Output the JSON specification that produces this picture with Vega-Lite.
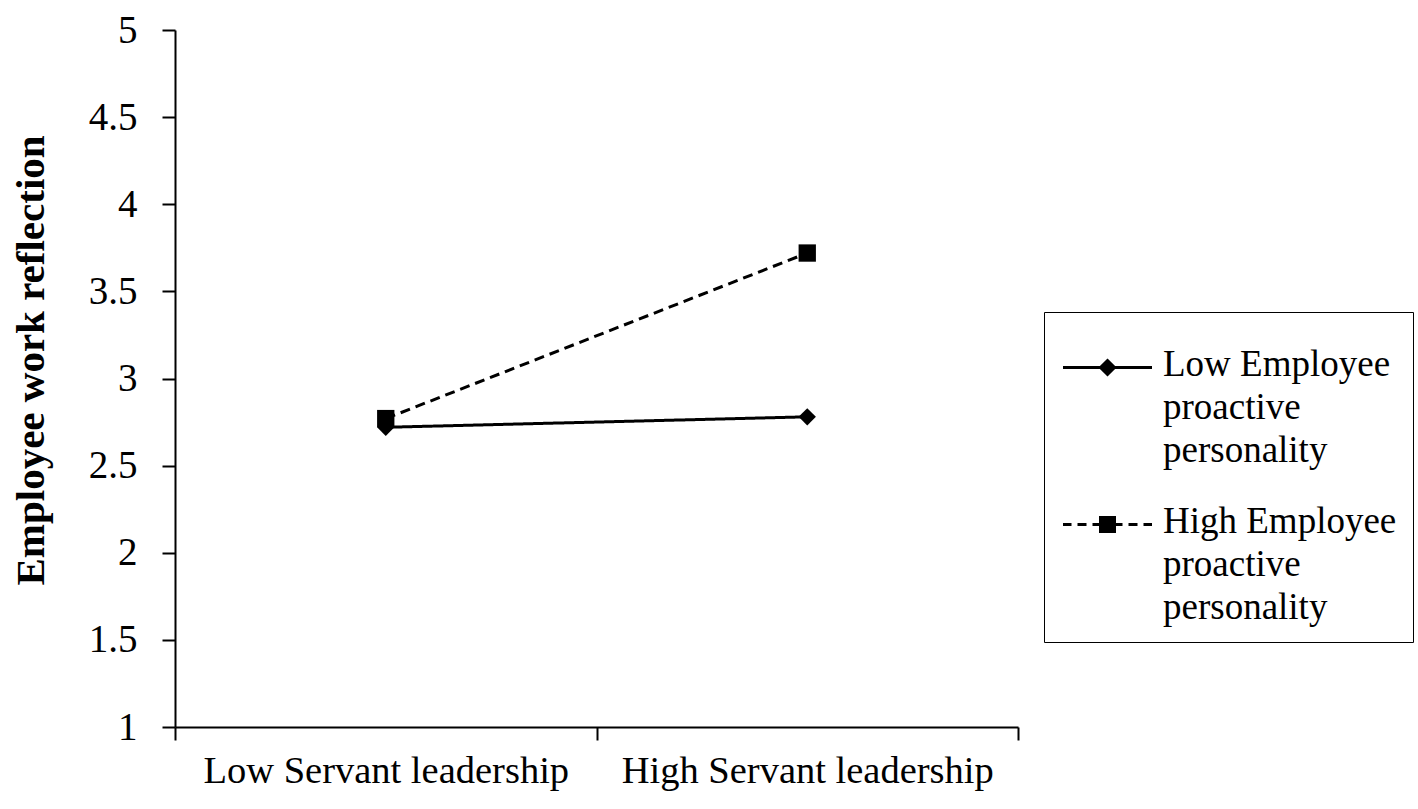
{
  "$schema": "https://vega.github.io/schema/vega-lite/v6.json",
  "width": 843,
  "height": 697,
  "autosize": {"type": "none"},
  "padding": {"left": 175, "top": 30, "right": 400, "bottom": 82},
  "background": "white",
  "config": {"view": {"stroke": null}, "font": "Liberation Serif", "style": {"guide-label": {"lineHeight": 43}}},
  "data": {"values": [
    {"leadership": "Low Servant leadership", "group": "Low Employee proactive personality", "reflection": 2.72},
    {"leadership": "High Servant leadership", "group": "Low Employee proactive personality", "reflection": 2.78},
    {"leadership": "Low Servant leadership", "group": "High Employee proactive personality", "reflection": 2.77},
    {"leadership": "High Servant leadership", "group": "High Employee proactive personality", "reflection": 3.72}
  ]},
  "encoding": {
    "x": {
      "field": "leadership", "type": "nominal",
      "sort": ["Low Servant leadership", "High Servant leadership"],
      "scale": {"type": "band", "paddingInner": 0, "paddingOuter": 0},
      "axis": {
        "title": null, "labelAngle": 0, "labelFont": "Liberation Serif", "labelFontSize": 38.5, "labelColor": "black",
        "labelLimit": 600, "labelPadding": 12, "tickBand": "extent", "tickSize": 13, "tickWidth": 2, "tickColor": "black",
        "domainColor": "black", "domainWidth": 2, "grid": false
      }
    },
    "y": {
      "field": "reflection", "type": "quantitative",
      "scale": {"domain": [1, 5], "zero": false, "nice": false},
      "axis": {
        "title": "Employee work reflection", "titleFont": "Liberation Serif", "titleFontSize": 41, "titleFontWeight": "bold",
        "titleColor": "black", "titleX": -144, "titleY": 330, "titleBaseline": "middle", "titleAlign": "center", "titleAngle": -90,
        "values": [1, 1.5, 2, 2.5, 3, 3.5, 4, 4.5, 5], "format": ".1~f",
        "labelFont": "Liberation Serif", "labelFontSize": 39, "labelColor": "black", "labelPadding": 25,
        "tickSize": 13, "tickWidth": 2, "tickColor": "black", "domainColor": "black", "domainWidth": 2, "grid": false
      }
    }
  },
  "layer": [
    {
      "mark": {"type": "line", "color": "black", "strokeWidth": 3},
      "encoding": {
        "strokeDash": {
          "field": "group", "type": "nominal",
          "scale": {"domain": ["Low Employee proactive personality", "High Employee proactive personality"], "range": [[1, 0], [10, 6]]},
          "legend": null
        }
      }
    },
    {
      "mark": {"type": "point", "filled": true, "color": "black", "opacity": 1, "size": 300},
      "encoding": {
        "shape": {
          "field": "group", "type": "nominal",
          "scale": {"domain": ["Low Employee proactive personality", "High Employee proactive personality"], "range": ["diamond", "square"]},
          "legend": null
        }
      }
    },
    {
      "transform": [{"filter": "datum.reflection > 10"}],
      "mark": {"type": "point", "filled": false, "color": "black", "strokeWidth": 3, "opacity": 1},
      "encoding": {
        "shape": {
          "field": "group", "type": "nominal",
          "scale": {
            "domain": ["Low Employee proactive personality", "High Employee proactive personality"],
            "range": [
              "M-44.5,21H44.5M0,14L7,21L0,28L-7,21ZM0,17.5L3.5,21L0,24.5L-3.5,21ZM0,20.5L0.5,21L0,21.5L-0.5,21Z",
              "M-44.5,21H-36M-30,21H-21M-15,21H-8.5M8.5,21H15M21,21H30M36,21H44.5M-7,14H7V28H-7ZM-4,17H4V25H-4ZM-1,20H1V22H-1Z"
            ]
          },
          "legend": {
            "title": null, "orient": "none", "legendX": 869, "legendY": 282,
            "strokeColor": "black", "fillColor": "white", "padding": 16,
            "symbolSize": 4, "symbolStrokeWidth": 3, "symbolStrokeColor": "black",
            "symbolOpacity": 1, "symbolOffset": 29,
            "labelFont": "Liberation Serif", "labelFontSize": 37, "labelColor": "black", "labelLimit": 400,
            "labelOffset": 37, "labelBaseline": "top", "rowPadding": 16,
            "labelExpr": "datum.label == 'Low Employee proactive personality' ? ['Low Employee', 'proactive', 'personality'] : ['High Employee', 'proactive', 'personality']"
          }
        }
      }
    }
  ],
  "resolve": {"scale": {"shape": "independent"}}
}
